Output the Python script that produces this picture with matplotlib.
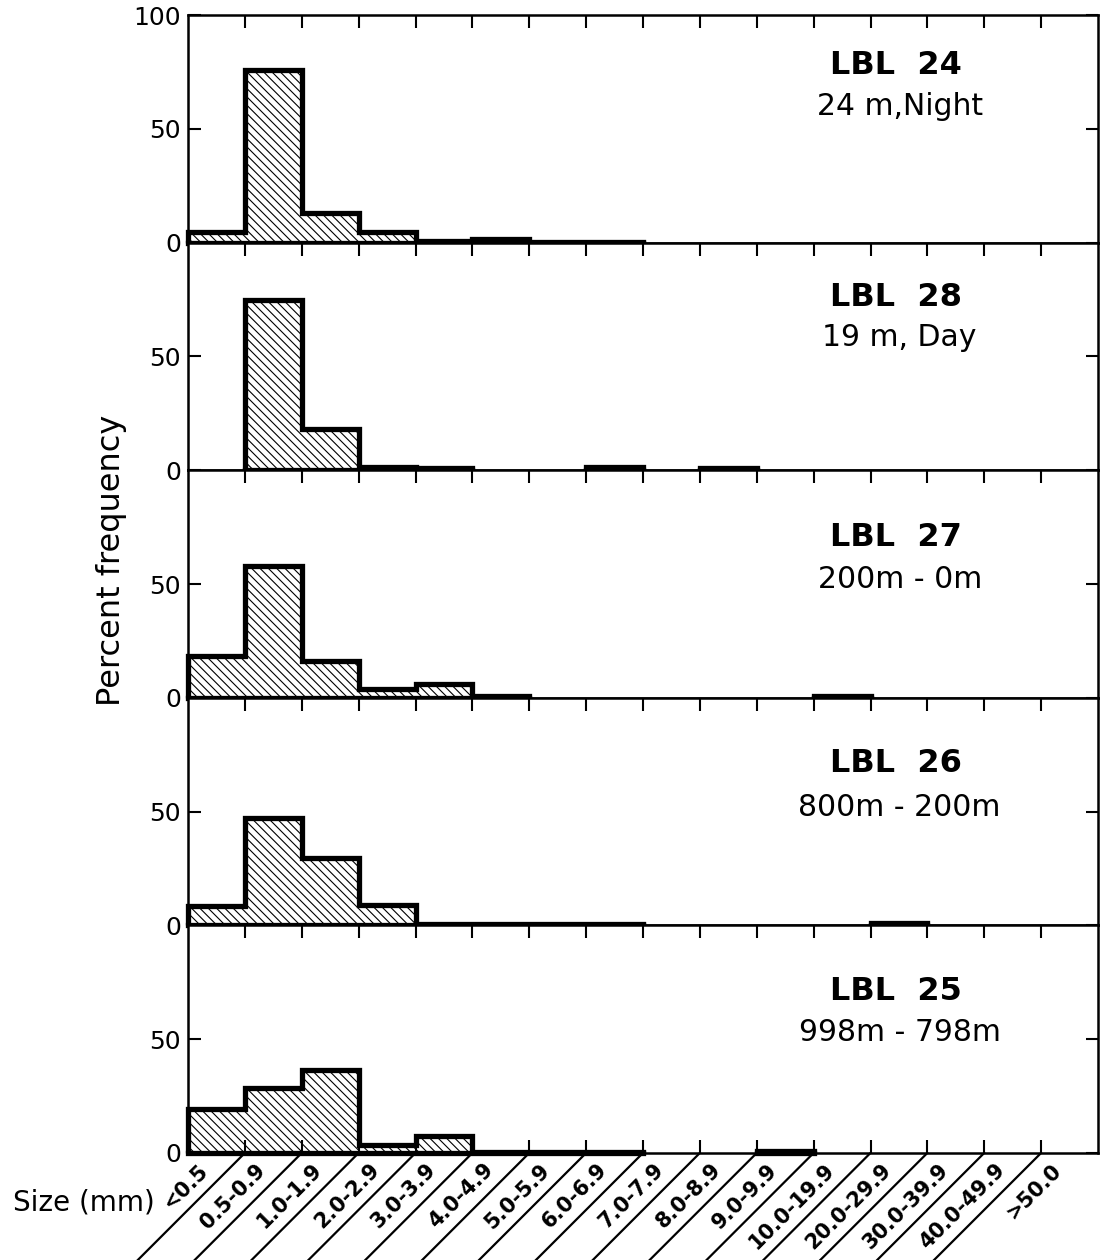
import numpy as np
import matplotlib.pyplot as plt

plt.rcParams['font.family'] = 'DejaVu Sans'
plt.rcParams['hatch.linewidth'] = 0.8

# Data
sizes = ["<0.5", "0.5-0.9", "1.0-1.9", "2.0-2.9", "3.0-3.9", "4.0-4.9", "5.0-5.9",
         "6.0-6.9", "7.0-7.9", "8.0-8.9", "9.0-9.9", "10.0-19.9", "20.0-29.9",
         "30.0-39.9", "40.0-49.9", ">50.0"]
stations = ["LBL  24", "LBL  28", "LBL  27", "LBL  26", "LBL  25"]
depths = ["24 m,Night", "19 m, Day", "200m - 0m", "800m - 200m", "998m - 798m"]

lbl24 = [4.5, 76, 13, 4.5, 0.7, 1.5, 0.5, 0.5, 0, 0, 0, 0, 0, 0, 0, 0]
lbl28 = [0, 75, 18, 1.5, 1, 0, 0, 1.5, 0, 1, 0, 0, 0, 0, 0, 0]
lbl27 = [18.5, 58, 16, 4, 6, 1, 0, 0, 0, 0, 0, 1, 0, 0, 0, 0]
lbl26 = [8.5, 47, 29.5, 9, 0.5, 0.5, 0.5, 0.5, 0, 0, 0, 0, 1, 0, 0, 0]
lbl25 = [19.5, 28.5, 36.5, 3.5, 7.5, 0.5, 0.5, 0.5, 0, 0, 0.7, 0, 0, 0, 0, 0]
panels = [lbl24, lbl28, lbl27, lbl26, lbl25]

# where the station labels sit in each panel (axes fraction)
name_y = [0.78, 0.76, 0.705, 0.71, 0.71]
sub_y = [0.60, 0.585, 0.52, 0.52, 0.53]

edges = np.arange(len(sizes) + 1)


def runs(vals):
    out, start = [], None
    for i, v in enumerate(list(vals) + [0]):
        if v > 0 and start is None:
            start = i
        elif v <= 0 and start is not None:
            out.append((start, i))
            start = None
    return out


fig = plt.figure(figsize=(11.03, 12.6), dpi=100)
axes = fig.subplots(5, 1, sharex=True, gridspec_kw=dict(hspace=0))
fig.subplots_adjust(left=0.1705, right=0.9955, top=0.988, bottom=0.085)

for k, (ax, vals) in enumerate(zip(axes, panels)):
    vals = np.array(vals, dtype=float)
    ax.bar(edges[:-1], vals, width=1, align='edge', fill=False,
           hatch='\\\\\\\\', edgecolor='black', linewidth=0, zorder=2)
    for a, b in runs(vals):
        ax.stairs(vals[a:b], edges[a:b + 1], baseline=0, color='black',
                  lw=3.8, clip_on=False, zorder=4)
        ax.plot([edges[a], edges[b]], [0, 0], color='black', lw=3.8,
                clip_on=False, zorder=4)

    ax.set_xlim(0, 16)
    ax.set_ylim(0, 100)
    ax.set_yticks([0, 50, 100] if k == 0 else [0, 50])
    ax.set_xticks(edges[1:-1])
    ax.tick_params(axis='x', direction='in', top=True, bottom=(k == 4),
                   length=9.5, width=1.5, labelbottom=False)
    ax.tick_params(axis='y', direction='in', left=True, right=True,
                   length=9, width=1.5, labelsize=18, pad=5)
    for s in ax.spines.values():
        s.set_linewidth(1.8)

    ax.text(0.778, name_y[k], stations[k], transform=ax.transAxes,
            ha='center', va='center', fontsize=23, fontweight='bold')
    ax.text(0.782, sub_y[k], depths[k], transform=ax.transAxes,
            ha='center', va='center', fontsize=21.5)

# slanted size classes under the bottom panel
bot = axes[-1]
for e in edges[1:-1]:
    bot.annotate('', xy=(e, 0), xytext=(-112, -112), textcoords='offset pixels',
                 arrowprops=dict(arrowstyle='-', lw=1.6, color='black',
                                 shrinkA=0, shrinkB=0),
                 annotation_clip=False)
for i, lab in enumerate(sizes):
    bot.annotate(lab, xy=(i + 0.5, 0), xytext=(-11, -14),
                 textcoords='offset pixels', rotation=45, ha='right',
                 va='center', rotation_mode='anchor', fontsize=15,
                 fontweight='bold', annotation_clip=False)

fig.text(155 / 1103, 1 - 1202 / 1260, 'Size (mm)', ha='right', va='center',
         fontsize=20)
fig.text(112 / 1103, 1 - 560 / 1260, 'Percent frequency', rotation=90,
         ha='center', va='center', fontsize=23)

fig.savefig('out.png', dpi=100)
